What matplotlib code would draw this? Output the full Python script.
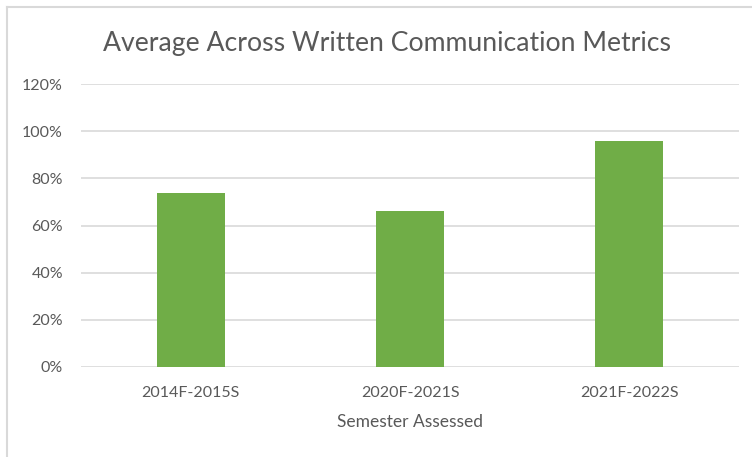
import matplotlib
matplotlib.use("Agg")
import matplotlib.pyplot as plt
from matplotlib.ticker import PercentFormatter
from matplotlib.lines import Line2D

semesters = ["2014F-2015S", "2020F-2021S", "2021F-2022S"]
averages = [0.737, 0.662, 0.958]
y_ticks = [0.0, 0.2, 0.4, 0.6, 0.8, 1.0, 1.2]

plt.rcParams['font.family'] = ['Lato', 'DejaVu Sans']
text_grey = "#595959"

fig = plt.figure(figsize=(7.52, 4.57), dpi=100)
ax = fig.add_axes([81 / 752, 1 - 366.7 / 457, 658 / 752, 282.4 / 457])

ax.bar(range(len(semesters)), averages, width=0.31, color="#70AD47", zorder=3)

ax.set_xlim(-0.5, len(semesters) - 0.5)
ax.set_ylim(0, 1.2)
ax.set_yticks(y_ticks)
ax.yaxis.set_major_formatter(PercentFormatter(1.0, decimals=0))
ax.set_xticks(range(len(semesters)))
ax.set_xticklabels(semesters)

ax.grid(axis="y", color="#D9D9D9", linewidth=1.2, zorder=0)
for s in ax.spines.values():
    s.set_visible(False)
ax.tick_params(axis="both", length=0, labelsize=11.5, colors=text_grey)
ax.tick_params(axis="y", pad=13)
ax.tick_params(axis="x", pad=14)

ax.set_xlabel("Semester Assessed", fontsize=12.5, color=text_grey, labelpad=10)

fig.text(387 / 752, 1 - 43 / 457, "Average Across Written Communication Metrics",
         ha="center", va="center", fontsize=19.2, color=text_grey)

# chart frame visible on left and top
fig.add_artist(Line2D([7 / 752, 7 / 752], [0, 1 - 7 / 457], transform=fig.transFigure,
                      color="#D9D9D9", linewidth=1.5))
fig.add_artist(Line2D([7 / 752, 1], [1 - 7 / 457, 1 - 7 / 457], transform=fig.transFigure,
                      color="#D9D9D9", linewidth=1.5))

fig.savefig("out.png", dpi=100)
